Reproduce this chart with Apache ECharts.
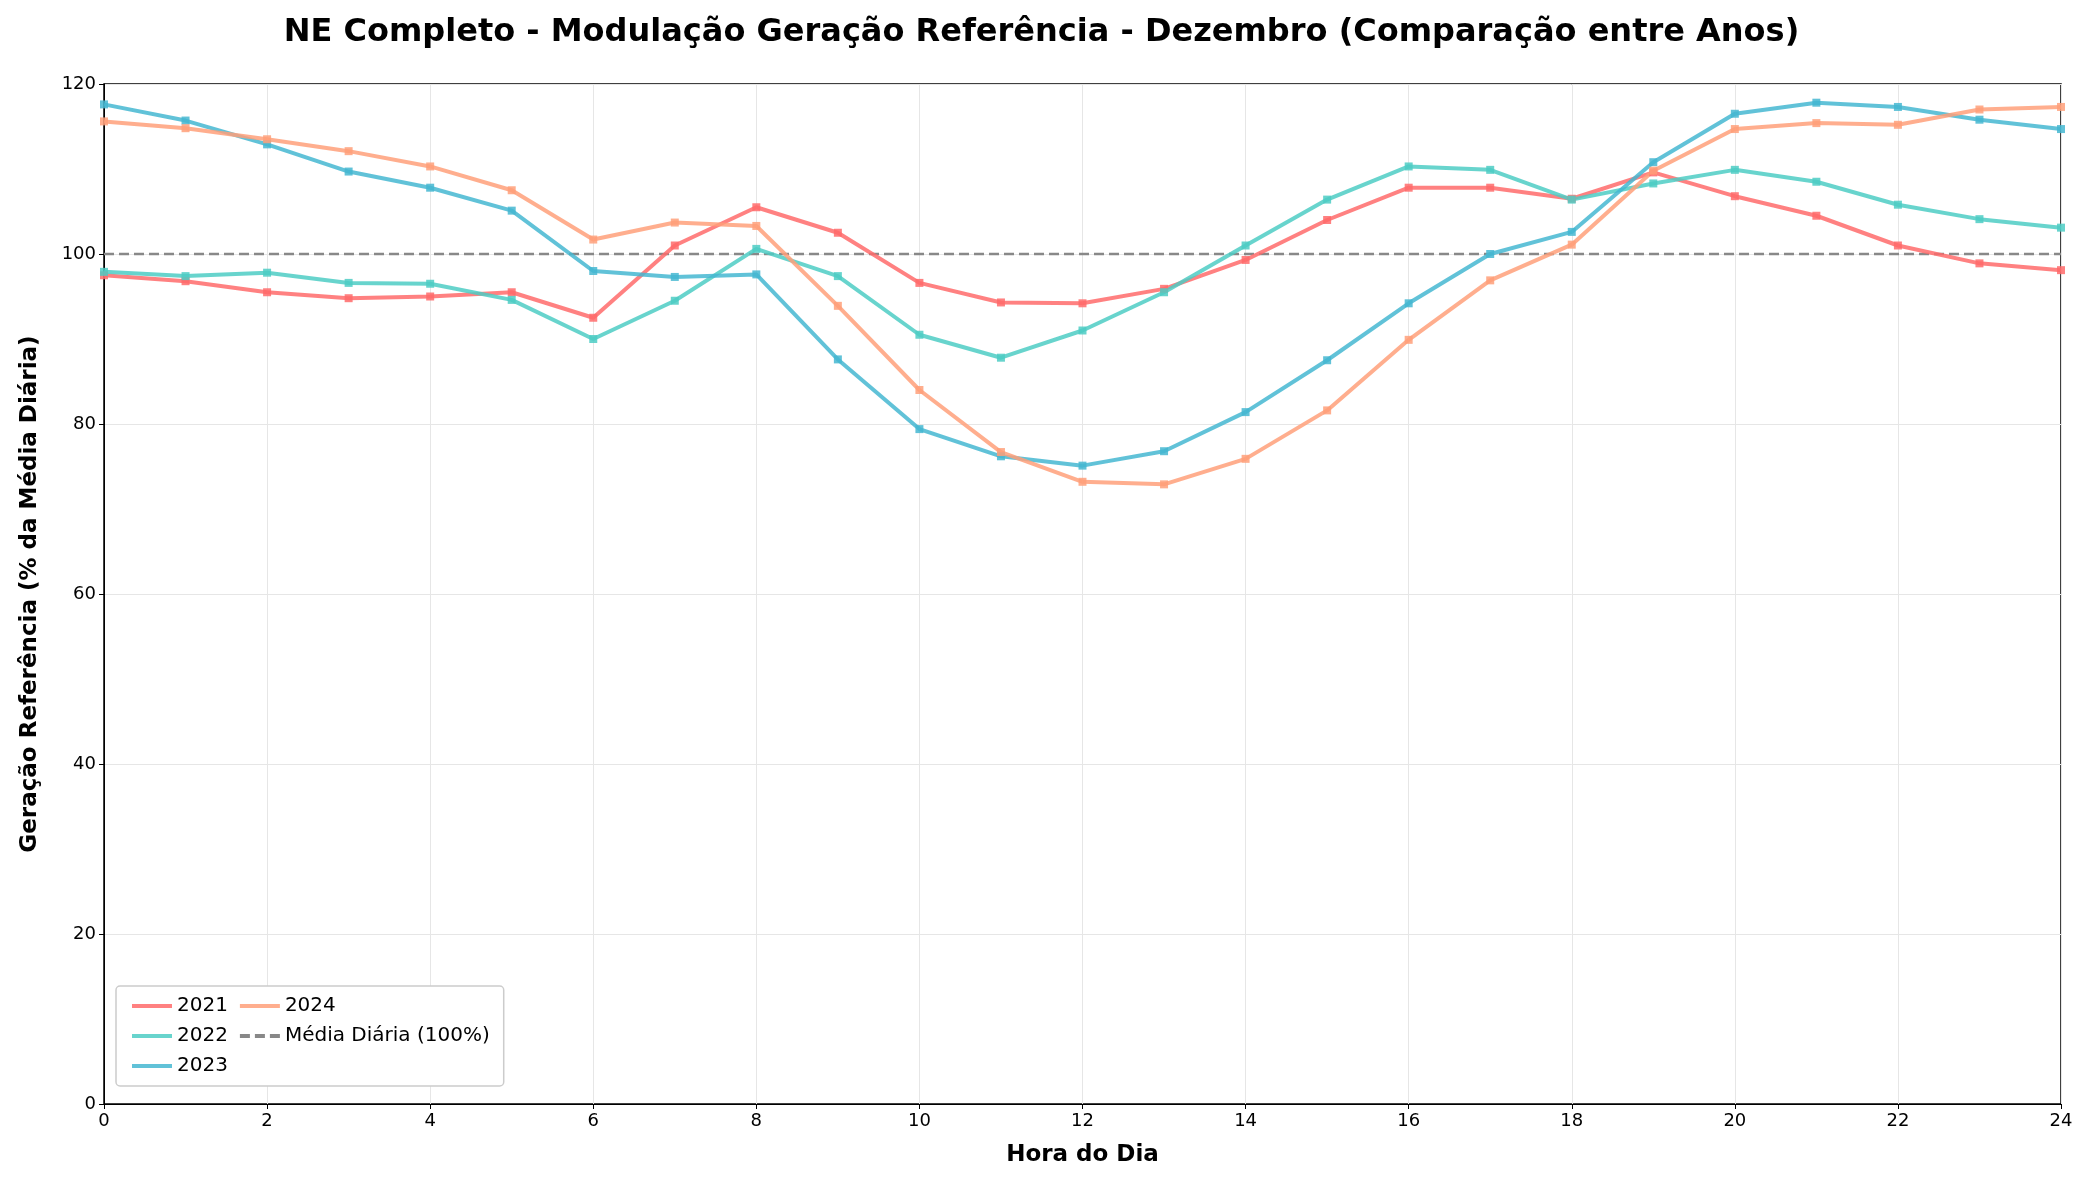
<!DOCTYPE html>
<html><head><meta charset="utf-8">
<script src="https://cdn.jsdelivr.net/npm/echarts@6/dist/echarts.min.js"></script>
<style>html,body{margin:0;background:#fff}#c{width:2083px;height:1182px}</style>
</head><body><div id="c"></div>
<script>
const hours = Array.from({length: 25}, (_, i) => i);
const y2021 = [97.5,96.8,95.5,94.8,95,95.5,92.5,101,105.5,102.5,96.6,94.3,94.2,95.9,99.3,104,107.8,107.8,106.5,109.6,106.8,104.5,101,98.9,98.1];
const y2022 = [97.9,97.4,97.8,96.6,96.5,94.6,90,94.5,100.6,97.4,90.5,87.8,91,95.5,101,106.4,110.3,109.9,106.4,108.3,109.9,108.5,105.8,104.1,103.1];
const y2023 = [117.6,115.7,112.9,109.7,107.8,105.1,98,97.3,97.6,87.6,79.4,76.2,75.1,76.8,81.4,87.5,94.2,100,102.6,110.8,116.5,117.8,117.3,115.8,114.7];
const y2024 = [115.6,114.8,113.5,112.1,110.3,107.5,101.7,103.7,103.3,93.9,84,76.7,73.2,72.9,75.9,81.6,89.9,96.9,101.1,109.8,114.7,115.4,115.2,117,117.3];
const mean = [100, 100];

const mk = (name, data, color) => ({
    name, type: 'line', data: hours.map((h, i) => [h, data[i]]),
    symbol: 'rect', symbolSize: 8, lineStyle: {width: 4, color, opacity: 0.85},
    itemStyle: {color, opacity: 0.85}
});

const chart = echarts.init(document.getElementById('c'));
chart.setOption({
    animation: false,
    textStyle: {fontFamily: 'DejaVu Sans'},
    title: {text: 'NE Completo - Modulação Geração Referência - Dezembro (Comparação entre Anos)',
        left: 'center', top: 12, textStyle: {fontSize: 32, fontWeight: 'bold', color: '#000'}},
    grid: {left: 104, right: 22, top: 84, bottom: 78, show: true, borderColor: '#000', borderWidth: 1.5},
    legend: {orient: 'vertical', left: 116, bottom: 96, height: 82, itemGap: 10,
        backgroundColor: '#fff', borderColor: '#ccc', borderWidth: 1.5, borderRadius: 4, padding: [10, 14],
        itemWidth: 40, itemHeight: 12, textStyle: {fontSize: 20, color: '#000'},
        lineStyle: {width: 4}, itemStyle: {opacity: 0},
        data: ['2021', '2022', '2023', '2024', 'Média Diária (100%)']},
    xAxis: {type: 'value', min: 0, max: 24, interval: 2, name: 'Hora do Dia', nameLocation: 'middle', nameGap: 40,
        nameTextStyle: {fontSize: 23, fontWeight: 'bold', color: '#000'},
        axisLine: {lineStyle: {color: '#000'}}, axisTick: {lineStyle: {color: '#000'}},
        axisLabel: {fontSize: 18, color: '#000'}, splitLine: {lineStyle: {color: '#e6e6e6'}}},
    yAxis: {type: 'value', min: 0, max: 120, interval: 20, name: 'Geração Referência (% da Média Diária)',
        nameLocation: 'middle', nameGap: 62, nameTextStyle: {fontSize: 23, fontWeight: 'bold', color: '#000'},
        axisLine: {show: true, lineStyle: {color: '#000'}}, axisTick: {show: true, lineStyle: {color: '#000'}},
        axisLabel: {fontSize: 18, color: '#000'}, splitLine: {lineStyle: {color: '#e6e6e6'}}},
    series: [
        mk('2021', y2021, '#FF6B6B'),
        mk('2022', y2022, '#4ECDC4'),
        mk('2023', y2023, '#45B7D1'),
        mk('2024', y2024, '#FFA07A'),
        {name: 'Média Diária (100%)', type: 'line', data: [[0, mean[0]], [24, mean[1]]], symbol: 'none',
            lineStyle: {width: 2.5, type: [10, 5], color: '#888'}, itemStyle: {color: '#888'}, z: 1}
    ]
});
</script></body></html>
